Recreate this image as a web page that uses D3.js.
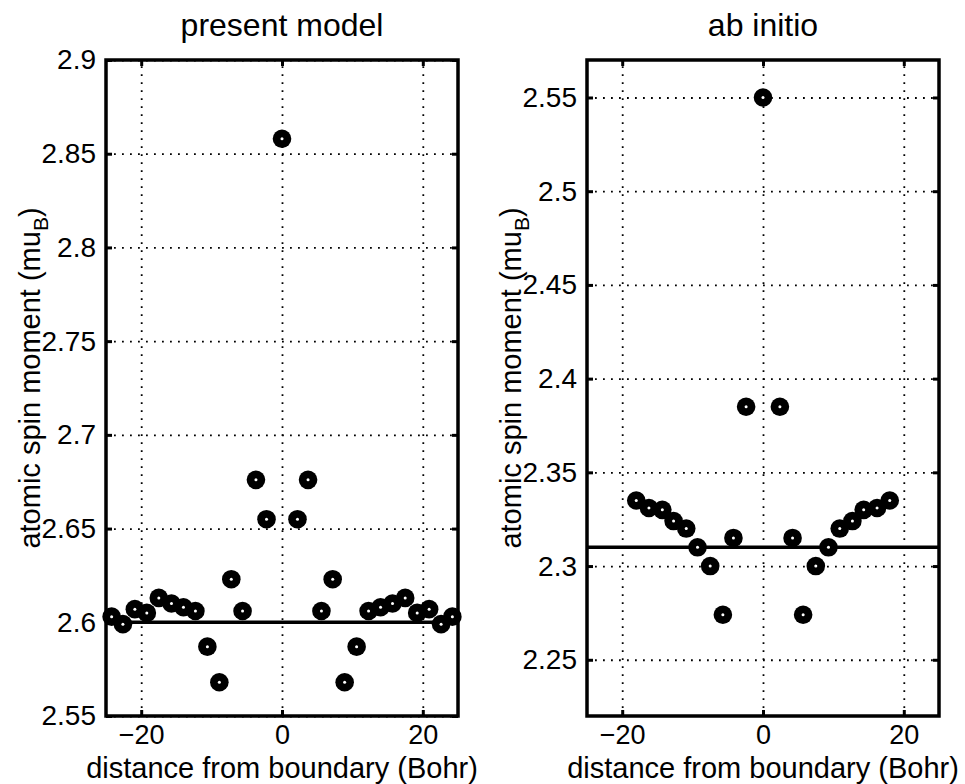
<!DOCTYPE html>
<html>
<head>
<meta charset="utf-8">
<script src="https://cdn.jsdelivr.net/npm/d3@7"></script>
<style>
  body { margin: 0; background: #fff; }
  text { font-family: "Liberation Sans", Arial, sans-serif; fill: #000; }
</style>
</head>
<body>
<div id="chart"></div>
<script>
// present model: distance from boundary (Bohr) and spin moment
var modelX = [-24.2, -22.6, -20.9, -19.2, -17.5, -15.7, -14.0, -12.3, -10.6, -8.9, -7.2, -5.6, -3.7, -2.2, 0,
              2.2, 3.7, 5.6, 7.2, 8.9, 10.6, 12.3, 14.0, 15.7, 17.5, 19.2, 20.9, 22.6, 24.2];
var modelY = [2.603, 2.599, 2.607, 2.605, 2.613, 2.610, 2.608, 2.606, 2.587, 2.568, 2.623, 2.606, 2.676, 2.655, 2.858,
              2.655, 2.676, 2.606, 2.623, 2.568, 2.587, 2.606, 2.608, 2.610, 2.613, 2.605, 2.607, 2.599, 2.603];
var modelRef = 2.6;
var modelYTicks = [2.55, 2.6, 2.65, 2.7, 2.75, 2.8, 2.85, 2.9];

// ab initio
var abX = [-18.0, -16.2, -14.3, -12.7, -10.9, -9.3, -7.5, -5.7, -4.2, -2.4, 0,
           2.4, 4.2, 5.7, 7.5, 9.3, 10.9, 12.7, 14.3, 16.2, 18.0];
var abY = [2.335, 2.331, 2.330, 2.324, 2.320, 2.310, 2.300, 2.274, 2.315, 2.385, 2.550,
           2.385, 2.315, 2.274, 2.300, 2.310, 2.320, 2.324, 2.330, 2.331, 2.335];
var abRef = 2.31;
var abYTicks = [2.25, 2.3, 2.35, 2.4, 2.45, 2.5, 2.55];

var xTicks = [-20, 0, 20];
var titles = ["present model", "ab initio"];

var svg = d3.select("#chart").append("svg")
    .attr("width", 965)
    .attr("height", 784);

function fmtX(d) { return d < 0 ? "\u2212" + Math.abs(d) : String(d); }
function fmtY(d) { return String(+d.toFixed(2)); }

function panel(left, xs, ys, ref, yTicks, yDomain, title) {
    var top = 60, w = 352, h = 656;
    var x = d3.scaleLinear().domain([-25, 25]).range([0, w]);
    var y = d3.scaleLinear().domain(yDomain).range([h, 0]);
    var g = svg.append("g").attr("transform", "translate(" + left + "," + top + ")");

    // dotted grid
    g.append("g").attr("class", "grid")
        .attr("transform", "translate(0," + h + ")")
        .call(d3.axisBottom(x).tickValues(xTicks).tickSize(-h).tickFormat(""));
    g.append("g").attr("class", "grid")
        .call(d3.axisLeft(y).tickValues(yTicks).tickSize(-w).tickFormat(""));
    g.selectAll(".grid .domain").remove();
    g.selectAll(".grid line")
        .attr("stroke", "#000")
        .attr("stroke-width", 1.8)
        .attr("stroke-dasharray", "1.8,6.2");

    // reference line
    g.append("line")
        .attr("x1", x(-25)).attr("x2", x(25))
        .attr("y1", y(ref)).attr("y2", y(ref))
        .attr("stroke", "#000")
        .attr("stroke-width", 3.5);

    // markers
    var pts = xs.map(function (d, i) { return [d, ys[i]]; });
    g.selectAll(".dot")
        .data(pts)
        .enter()
        .append("circle")
        .attr("class", "dot")
        .attr("cx", function (d) { return x(d[0]); })
        .attr("cy", function (d) { return y(d[1]); })
        .attr("r", 9.3)
        .attr("fill", "#000");
    g.selectAll(".hole")
        .data(pts)
        .enter()
        .append("circle")
        .attr("class", "hole")
        .attr("cx", function (d) { return x(d[0]); })
        .attr("cy", function (d) { return y(d[1]); })
        .attr("r", 1.5)
        .attr("fill", "#fff");

    // inward ticks on all four sides
    var ax = [
        g.append("g").attr("transform", "translate(0," + h + ")")
            .call(d3.axisBottom(x).tickValues(xTicks).tickSize(-6).tickPadding(9).tickFormat(fmtX)),
        g.append("g")
            .call(d3.axisTop(x).tickValues(xTicks).tickSize(-6).tickFormat("")),
        g.append("g")
            .call(d3.axisLeft(y).tickValues(yTicks).tickSize(-6).tickPadding(10).tickFormat(fmtY)),
        g.append("g").attr("transform", "translate(" + w + ",0)")
            .call(d3.axisRight(y).tickValues(yTicks).tickSize(-6).tickFormat(""))
    ];
    ax.forEach(function (a) {
        a.select(".domain").remove();
        a.selectAll("line").attr("stroke", "#000").attr("stroke-width", 3);
        a.selectAll("text").style("font-size", "28px");
    });
    ax[0].selectAll("text").style("font-size", "27px");

    // frame
    g.append("rect")
        .attr("width", w).attr("height", h)
        .attr("fill", "none")
        .attr("stroke", "#000")
        .attr("stroke-width", 3.5);

    g.append("text")
        .attr("x", w / 2).attr("y", -24)
        .attr("text-anchor", "middle")
        .style("font-size", "32px")
        .text(title);

    g.append("text")
        .attr("x", w / 2).attr("y", h + 62)
        .attr("text-anchor", "middle")
        .style("font-size", "29px")
        .text("distance from boundary (Bohr)");

    var yl = g.append("text")
        .attr("transform", "translate(" + (-66) + "," + (h / 2 - 10) + ") rotate(-90)")
        .attr("text-anchor", "middle")
        .style("font-size", "29px");
    yl.append("tspan").text("atomic spin moment (mu");
    yl.append("tspan").attr("dy", 8).style("font-size", "21px").text("B");
    yl.append("tspan").attr("dy", -8).text(")");
}

panel(106, modelX, modelY, modelRef, modelYTicks, [2.55, 2.9], titles[0]);
panel(587, abX, abY, abRef, abYTicks, [2.22, 2.57], titles[1]);
</script>
</body>
</html>
